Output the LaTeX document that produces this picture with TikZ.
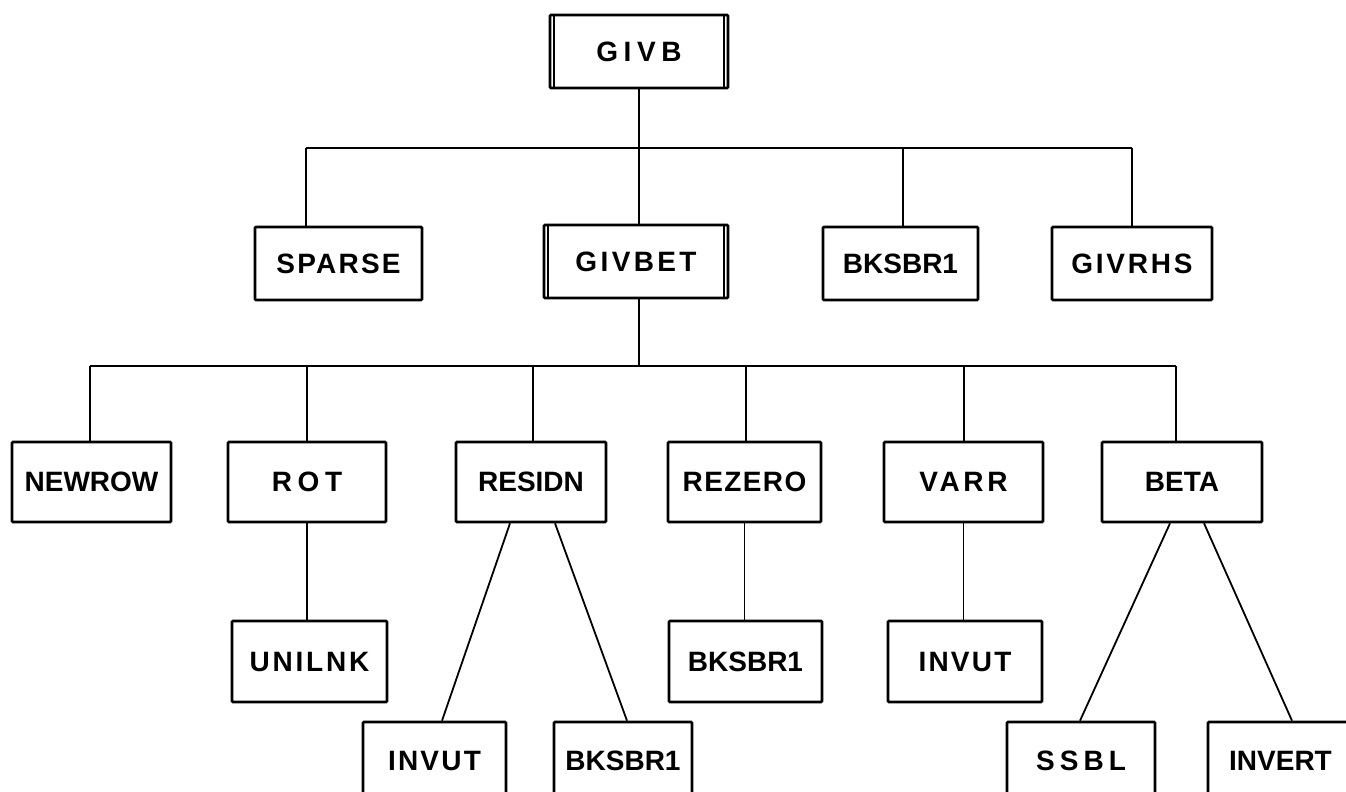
\documentclass[tikz,border=0pt]{standalone}
\usepackage{fontspec}
\setmainfont{Liberation Sans}
\begin{document}
\begin{tikzpicture}[x=1pt,y=-1pt,
  lbl/.style={font=\fontsize{28}{30}\selectfont\bfseries\addfontfeature{LetterSpace=#1}},
  box/.style={draw, line width=2.6pt, inner sep=0pt, rounded corners=1pt, lbl=0},
  sz/.style n args={2}{minimum width=#1pt, minimum height=#2pt},
  link/.style={line width=1.8pt},
  inner/.style={line width=1.8pt}]
\fill[white] (0,0) rectangle (1346,792);
\useasboundingbox (0,0) rectangle (1346,792);
\clip (0,0) rectangle (1346,792);

% level 1
\node[box, lbl=20, sz={178}{73}] (givb) at (639,51.5) {GIVB};
\draw[inner] ([xshift=5pt]givb.north west) -- ([xshift=5pt]givb.south west);
\draw[inner] ([xshift=-5pt]givb.north east) -- ([xshift=-5pt]givb.south east);

% level 2
\node[box, lbl=8,  sz={167}{73}] (sparse) at (338.5,263.5) {SPARSE};
\node[box, lbl=12, sz={184}{73}] (givbet) at (636,261.5) {GIVBET};
\draw[inner] ([xshift=5pt]givbet.north west) -- ([xshift=5pt]givbet.south west);
\draw[inner] ([xshift=-5pt]givbet.north east) -- ([xshift=-5pt]givbet.south east);
\node[box, lbl=0,  sz={155}{73}] (bkA) at (900.5,263.5) {BKSBR1};
\node[box, lbl=10, sz={160}{73}] (givrhs) at (1132,263.5) {GIVRHS};

% level 3
\node[box, lbl=0,  sz={159}{80}] (newrow) at (91.5,482) {NEWROW};
\node[box, lbl=20, sz={158}{80}] (rot) at (307,482) {ROT};
\node[box, lbl=0,  sz={150}{80}] (residn) at (531,482) {RESIDN};
\node[box, lbl=5,  sz={153}{80}] (rezero) at (744.5,482) {REZERO};
\node[box, lbl=13, sz={159}{80}] (varr) at (963.5,482) {VARR};
\node[box, lbl=0,  sz={160}{80}] (beta) at (1182,482) {BETA};

% level 4
\node[box, lbl=10, sz={155}{81}] (unilnk) at (309.5,661.5) {UNILNK};
\node[box, lbl=0,  sz={153}{81}] (bkB) at (745.5,661.5) {BKSBR1};
\node[box, lbl=8,  sz={154}{81}] (invutA) at (965,661.5) {INVUT};

% level 5 (runs off the lower edge)
\node[box, lbl=8,  sz={143}{78}] (invutB) at (434.5,761) {INVUT};
\node[box, lbl=0,  sz={138}{78}] (bkC) at (623,761) {BKSBR1};
\node[box, lbl=18, sz={148}{78}] (ssbl) at (1081,761) {SSBL};
\node[box, lbl=0,  sz={145}{78}] (invert) at (1280.5,761) {INVERT};

% first bus
\coordinate (b1l) at (306,148);
\coordinate (b1r) at (1132,148);
\coordinate (b1k) at (903,148);
\coordinate (b1m) at (639,148);
\draw[link] (b1l) -- (b1r);
\draw[link] (givb.south) -- (b1m);
\draw[link] (b1l) -- (b1l |- sparse.north);
\draw[link] (b1m) -- (b1m |- givbet.north);
\draw[link] (b1k) -- (b1k |- bkA.north);
\draw[link] (b1r) -- (b1r |- givrhs.north);

% second bus
\coordinate (b2l) at (90,366);
\coordinate (b2r) at (1176,366);
\coordinate (b2m) at (639,366);
\coordinate (b2a) at (307,366);
\coordinate (b2b) at (533,366);
\coordinate (b2c) at (746,366);
\coordinate (b2d) at (964,366);
\draw[link] (b2l) -- (b2r);
\draw[link] (b2m |- givbet.south) -- (b2m);
\draw[link] (b2l) -- (b2l |- newrow.north);
\draw[link] (b2a) -- (b2a |- rot.north);
\draw[link] (b2b) -- (b2b |- residn.north);
\draw[link] (b2c) -- (b2c |- rezero.north);
\draw[link] (b2d) -- (b2d |- varr.north);
\draw[link] (b2r) -- (b2r |- beta.north);

% lower links
\draw[link] (rot.south) -- (rot.south |- unilnk.north);
\draw[link] (rezero.south) -- (rezero.south |- bkB.north);
\draw[link] (varr.south) -- (varr.south |- invutA.north);
\draw[link] ([xshift=-21pt]residn.south) -- ([xshift=7.5pt]invutB.north);
\draw[link] ([xshift=24pt]residn.south) -- ([xshift=4pt]bkC.north);
\draw[link] ([xshift=-12pt]beta.south) -- ([xshift=-1pt]ssbl.north);
\draw[link] ([xshift=22pt]beta.south) -- ([xshift=11.5pt]invert.north);
\end{tikzpicture}
\end{document}
